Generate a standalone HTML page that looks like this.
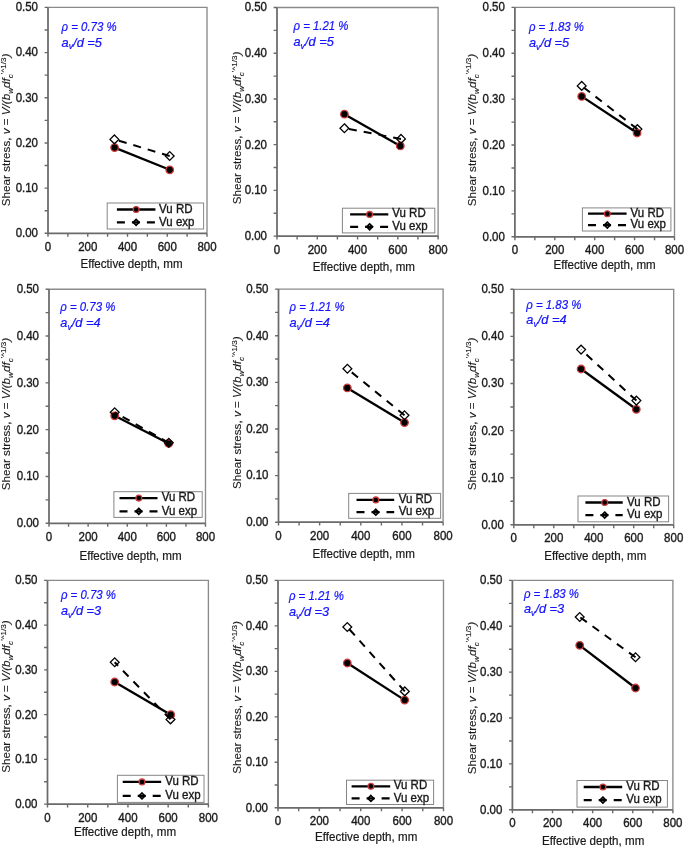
<!DOCTYPE html>
<html><head><meta charset="utf-8"><title>Shear stress vs effective depth</title>
<style>
html,body{margin:0;padding:0;background:#fff;}
body{width:685px;height:849px;overflow:hidden;}
svg{display:block;will-change:transform;}
svg text{font-family:"Liberation Sans",sans-serif;font-size:11.5px;fill:#1a1a1a;stroke:#1a1a1a;stroke-width:0.35px;}
svg text.ann{fill:#1414ff;font-style:italic;font-size:11.4px;stroke:#1414ff;stroke-width:0.2px;}
svg text.xt{font-size:11.6px;stroke-width:0.2px;}
svg text.yt{stroke-width:0.12px;}
</style></head>
<body>
<svg width="685" height="849" viewBox="0 0 685 849">
<rect width="685" height="849" fill="#fff"/>
<path d="M48 7.4H207V233.3" fill="none" stroke="#8a8a8a" stroke-width="1.35"/>
<path d="M48 7.4V233.3H207" fill="none" stroke="#6a6a6a" stroke-width="1.75"/>
<path d="M44.6 233.3H48M44.6 210.71H48M44.6 188.12H48M44.6 165.53H48M44.6 142.94H48M44.6 120.35H48M44.6 97.76H48M44.6 75.17H48M44.6 52.58H48M44.6 29.99H48M44.6 7.4H48M48 233.3V236.7M67.88 233.3V236.7M87.75 233.3V236.7M107.62 233.3V236.7M127.5 233.3V236.7M147.38 233.3V236.7M167.25 233.3V236.7M187.12 233.3V236.7M207 233.3V236.7" stroke="#6a6a6a" stroke-width="1.4"/>
<text text-anchor="end" transform="translate(38 237.2) scale(1 1.09)">0.00</text>
<text text-anchor="end" transform="translate(38 192.02) scale(1 1.09)">0.10</text>
<text text-anchor="end" transform="translate(38 146.84) scale(1 1.09)">0.20</text>
<text text-anchor="end" transform="translate(38 101.66) scale(1 1.09)">0.30</text>
<text text-anchor="end" transform="translate(38 56.48) scale(1 1.09)">0.40</text>
<text text-anchor="end" transform="translate(38 11.3) scale(1 1.09)">0.50</text>
<text text-anchor="middle" transform="translate(48 250.8) scale(1 1.09)">0</text>
<text text-anchor="middle" transform="translate(87.75 250.8) scale(1 1.09)">200</text>
<text text-anchor="middle" transform="translate(127.5 250.8) scale(1 1.09)">400</text>
<text text-anchor="middle" transform="translate(167.25 250.8) scale(1 1.09)">600</text>
<text text-anchor="middle" transform="translate(207 250.8) scale(1 1.09)">800</text>
<text class="xt" text-anchor="middle" transform="translate(131.5 267.8) scale(1 1.06)">Effective depth, mm</text>
<text class="yt" transform="translate(10.4 129.9) rotate(-90)" text-anchor="middle" textLength="152.5" lengthAdjust="spacingAndGlyphs">Shear stress, <tspan font-style="italic">v</tspan> = <tspan font-style="italic">V/(b</tspan><tspan font-style="italic" font-size="8" dy="3.0">w</tspan><tspan font-style="italic" dy="-3.0">df</tspan><tspan font-style="italic" font-size="8" dy="3.0">c</tspan><tspan font-size="8" dy="-7.4">'^1/3</tspan><tspan font-style="italic" dy="4.4">)</tspan></text>
<text class="ann" transform="translate(61.6 30.8) scale(1 1.1)" textLength="55.0" lengthAdjust="spacingAndGlyphs">&#961; = 0.73 %</text>
<text class="ann" transform="translate(61.6 46.5) scale(1 1.1)" textLength="40.3" lengthAdjust="spacingAndGlyphs">a<tspan font-size="7.8" dy="2.7">v</tspan><tspan dy="-2.7">/d =</tspan>5</text>
<path d="M114.6 147.6L169.7 169.8" stroke="#000" stroke-width="2.3" fill="none"/>
<circle cx="114.6" cy="147.6" r="3.75" fill="#000" stroke="#cc3b3b" stroke-width="1.3"/>
<circle cx="169.7" cy="169.8" r="3.75" fill="#000" stroke="#cc3b3b" stroke-width="1.3"/>
<path d="M169.7 156L114.4 139.4" stroke="#000" stroke-width="2.0" stroke-dasharray="8 7" fill="none"/>
<path d="M114.4 135L118.8 139.4L114.4 143.8L110 139.4Z" fill="none" stroke="#000" stroke-width="1.3"/>
<path d="M169.7 151.6L174.1 156L169.7 160.4L165.3 156Z" fill="none" stroke="#000" stroke-width="1.3"/>
<rect x="107.2" y="203" width="96.4" height="26" fill="#fff" stroke="#868686" stroke-width="1"/>
<path d="M116.9 209.5H155.4" stroke="#000" stroke-width="2.3"/>
<circle cx="136.1" cy="209.5" r="2.9" fill="#000" stroke="#cc3b3b" stroke-width="1.3"/>
<path d="M116.9 222.3H155.4" stroke="#000" stroke-width="2.3" stroke-dasharray="8 7"/>
<path d="M136.1 219.4L139 222.3L136.1 225.2L133.2 222.3Z" fill="none" stroke="#000" stroke-width="1.7"/>
<text transform="translate(159.1 212.5) scale(1 1.04)">Vu RD</text>
<text transform="translate(159.1 225.5) scale(1 1.04)">Vu exp</text>
<path d="M277 7.5H438.1V236.1" fill="none" stroke="#8a8a8a" stroke-width="1.35"/>
<path d="M277 7.5V236.1H438.1" fill="none" stroke="#6a6a6a" stroke-width="1.75"/>
<path d="M273.6 236.1H277M273.6 213.24H277M273.6 190.38H277M273.6 167.52H277M273.6 144.66H277M273.6 121.8H277M273.6 98.94H277M273.6 76.08H277M273.6 53.22H277M273.6 30.36H277M273.6 7.5H277M277 236.1V239.5M297.14 236.1V239.5M317.27 236.1V239.5M337.41 236.1V239.5M357.55 236.1V239.5M377.69 236.1V239.5M397.83 236.1V239.5M417.96 236.1V239.5M438.1 236.1V239.5" stroke="#6a6a6a" stroke-width="1.4"/>
<text text-anchor="end" transform="translate(267 240) scale(1 1.09)">0.00</text>
<text text-anchor="end" transform="translate(267 194.28) scale(1 1.09)">0.10</text>
<text text-anchor="end" transform="translate(267 148.56) scale(1 1.09)">0.20</text>
<text text-anchor="end" transform="translate(267 102.84) scale(1 1.09)">0.30</text>
<text text-anchor="end" transform="translate(267 57.12) scale(1 1.09)">0.40</text>
<text text-anchor="end" transform="translate(267 11.4) scale(1 1.09)">0.50</text>
<text text-anchor="middle" transform="translate(277 253.6) scale(1 1.09)">0</text>
<text text-anchor="middle" transform="translate(317.27 253.6) scale(1 1.09)">200</text>
<text text-anchor="middle" transform="translate(357.55 253.6) scale(1 1.09)">400</text>
<text text-anchor="middle" transform="translate(397.83 253.6) scale(1 1.09)">600</text>
<text text-anchor="middle" transform="translate(438.1 253.6) scale(1 1.09)">800</text>
<text class="xt" text-anchor="middle" transform="translate(363.9 270.9) scale(1 1.06)">Effective depth, mm</text>
<text class="yt" transform="translate(241.3 127.9) rotate(-90)" text-anchor="middle" textLength="152.5" lengthAdjust="spacingAndGlyphs">Shear stress, <tspan font-style="italic">v</tspan> = <tspan font-style="italic">V/(b</tspan><tspan font-style="italic" font-size="8" dy="3.0">w</tspan><tspan font-style="italic" dy="-3.0">df</tspan><tspan font-style="italic" font-size="8" dy="3.0">c</tspan><tspan font-size="8" dy="-7.4">'^1/3</tspan><tspan font-style="italic" dy="4.4">)</tspan></text>
<text class="ann" transform="translate(293.5 30.4) scale(1 1.1)" textLength="55.0" lengthAdjust="spacingAndGlyphs">&#961; = 1.21 %</text>
<text class="ann" transform="translate(293.5 46.1) scale(1 1.1)" textLength="40.3" lengthAdjust="spacingAndGlyphs">a<tspan font-size="7.8" dy="2.7">v</tspan><tspan dy="-2.7">/d =</tspan>5</text>
<path d="M344.4 114.2L400.3 145.9" stroke="#000" stroke-width="2.3" fill="none"/>
<circle cx="344.4" cy="114.2" r="3.75" fill="#000" stroke="#cc3b3b" stroke-width="1.3"/>
<circle cx="400.3" cy="145.9" r="3.75" fill="#000" stroke="#cc3b3b" stroke-width="1.3"/>
<path d="M401 138.9L344.4 128.2" stroke="#000" stroke-width="2.0" stroke-dasharray="8 7" fill="none"/>
<path d="M344.4 123.8L348.8 128.2L344.4 132.6L340 128.2Z" fill="none" stroke="#000" stroke-width="1.3"/>
<path d="M401 134.5L405.4 138.9L401 143.3L396.6 138.9Z" fill="none" stroke="#000" stroke-width="1.3"/>
<rect x="342.4" y="208.2" width="92.4" height="24.7" fill="#fff" stroke="#868686" stroke-width="1"/>
<path d="M350.1 214.4H388.3" stroke="#000" stroke-width="2.3"/>
<circle cx="369.6" cy="214.4" r="2.9" fill="#000" stroke="#cc3b3b" stroke-width="1.3"/>
<path d="M350.1 226.8H388.3" stroke="#000" stroke-width="2.3" stroke-dasharray="8 7"/>
<path d="M369.6 223.9L372.5 226.8L369.6 229.7L366.7 226.8Z" fill="none" stroke="#000" stroke-width="1.7"/>
<text transform="translate(392.3 217.4) scale(1 1.04)">Vu RD</text>
<text transform="translate(392.3 230) scale(1 1.04)">Vu exp</text>
<path d="M514.9 7.4H674.5V236.8" fill="none" stroke="#8a8a8a" stroke-width="1.35"/>
<path d="M514.9 7.4V236.8H674.5" fill="none" stroke="#6a6a6a" stroke-width="1.75"/>
<path d="M511.5 236.8H514.9M511.5 213.86H514.9M511.5 190.92H514.9M511.5 167.98H514.9M511.5 145.04H514.9M511.5 122.1H514.9M511.5 99.16H514.9M511.5 76.22H514.9M511.5 53.28H514.9M511.5 30.34H514.9M511.5 7.4H514.9M514.9 236.8V240.2M534.85 236.8V240.2M554.8 236.8V240.2M574.75 236.8V240.2M594.7 236.8V240.2M614.65 236.8V240.2M634.6 236.8V240.2M654.55 236.8V240.2M674.5 236.8V240.2" stroke="#6a6a6a" stroke-width="1.4"/>
<text text-anchor="end" transform="translate(504.9 240.7) scale(1 1.09)">0.00</text>
<text text-anchor="end" transform="translate(504.9 194.82) scale(1 1.09)">0.10</text>
<text text-anchor="end" transform="translate(504.9 148.94) scale(1 1.09)">0.20</text>
<text text-anchor="end" transform="translate(504.9 103.06) scale(1 1.09)">0.30</text>
<text text-anchor="end" transform="translate(504.9 57.18) scale(1 1.09)">0.40</text>
<text text-anchor="end" transform="translate(504.9 11.3) scale(1 1.09)">0.50</text>
<text text-anchor="middle" transform="translate(514.9 254.3) scale(1 1.09)">0</text>
<text text-anchor="middle" transform="translate(554.8 254.3) scale(1 1.09)">200</text>
<text text-anchor="middle" transform="translate(594.7 254.3) scale(1 1.09)">400</text>
<text text-anchor="middle" transform="translate(634.6 254.3) scale(1 1.09)">600</text>
<text text-anchor="middle" transform="translate(674.5 254.3) scale(1 1.09)">800</text>
<text class="xt" text-anchor="middle" transform="translate(604.6 269) scale(1 1.06)">Effective depth, mm</text>
<text class="yt" transform="translate(475.8 130) rotate(-90)" text-anchor="middle" textLength="152.5" lengthAdjust="spacingAndGlyphs">Shear stress, <tspan font-style="italic">v</tspan> = <tspan font-style="italic">V/(b</tspan><tspan font-style="italic" font-size="8" dy="3.0">w</tspan><tspan font-style="italic" dy="-3.0">df</tspan><tspan font-style="italic" font-size="8" dy="3.0">c</tspan><tspan font-size="8" dy="-7.4">'^1/3</tspan><tspan font-style="italic" dy="4.4">)</tspan></text>
<text class="ann" transform="translate(528.9 31.4) scale(1 1.1)" textLength="55.0" lengthAdjust="spacingAndGlyphs">&#961; = 1.83 %</text>
<text class="ann" transform="translate(528.9 47.2) scale(1 1.1)" textLength="40.3" lengthAdjust="spacingAndGlyphs">a<tspan font-size="7.8" dy="2.7">v</tspan><tspan dy="-2.7">/d =</tspan>5</text>
<path d="M581.7 96.4L637.1 133" stroke="#000" stroke-width="2.3" fill="none"/>
<circle cx="581.7" cy="96.4" r="3.75" fill="#000" stroke="#cc3b3b" stroke-width="1.3"/>
<circle cx="637.1" cy="133" r="3.75" fill="#000" stroke="#cc3b3b" stroke-width="1.3"/>
<path d="M637.4 129.1L581.7 85.9" stroke="#000" stroke-width="2.0" stroke-dasharray="8 7" fill="none"/>
<path d="M581.7 81.5L586.1 85.9L581.7 90.3L577.3 85.9Z" fill="none" stroke="#000" stroke-width="1.3"/>
<path d="M637.4 124.7L641.8 129.1L637.4 133.5L633 129.1Z" fill="none" stroke="#000" stroke-width="1.3"/>
<rect x="582.4" y="207.9" width="88.5" height="23.1" fill="#fff" stroke="#868686" stroke-width="1"/>
<path d="M588 213.7H626.6" stroke="#000" stroke-width="2.3"/>
<circle cx="607.3" cy="213.7" r="2.9" fill="#000" stroke="#cc3b3b" stroke-width="1.3"/>
<path d="M588 225.1H626.6" stroke="#000" stroke-width="2.3" stroke-dasharray="8 7"/>
<path d="M607.3 222.2L610.2 225.1L607.3 228L604.4 225.1Z" fill="none" stroke="#000" stroke-width="1.7"/>
<text transform="translate(630.6 216.7) scale(1 1.04)">Vu RD</text>
<text transform="translate(630.6 228.3) scale(1 1.04)">Vu exp</text>
<path d="M49 289.2H205.5V523.3" fill="none" stroke="#8a8a8a" stroke-width="1.35"/>
<path d="M49 289.2V523.3H205.5" fill="none" stroke="#6a6a6a" stroke-width="1.75"/>
<path d="M45.6 523.3H49M45.6 499.89H49M45.6 476.48H49M45.6 453.07H49M45.6 429.66H49M45.6 406.25H49M45.6 382.84H49M45.6 359.43H49M45.6 336.02H49M45.6 312.61H49M45.6 289.2H49M49 523.3V526.7M68.56 523.3V526.7M88.12 523.3V526.7M107.69 523.3V526.7M127.25 523.3V526.7M146.81 523.3V526.7M166.38 523.3V526.7M185.94 523.3V526.7M205.5 523.3V526.7" stroke="#6a6a6a" stroke-width="1.4"/>
<text text-anchor="end" transform="translate(39 527.2) scale(1 1.09)">0.00</text>
<text text-anchor="end" transform="translate(39 480.38) scale(1 1.09)">0.10</text>
<text text-anchor="end" transform="translate(39 433.56) scale(1 1.09)">0.20</text>
<text text-anchor="end" transform="translate(39 386.74) scale(1 1.09)">0.30</text>
<text text-anchor="end" transform="translate(39 339.92) scale(1 1.09)">0.40</text>
<text text-anchor="end" transform="translate(39 293.1) scale(1 1.09)">0.50</text>
<text text-anchor="middle" transform="translate(49 540.8) scale(1 1.09)">0</text>
<text text-anchor="middle" transform="translate(88.12 540.8) scale(1 1.09)">200</text>
<text text-anchor="middle" transform="translate(127.25 540.8) scale(1 1.09)">400</text>
<text text-anchor="middle" transform="translate(166.38 540.8) scale(1 1.09)">600</text>
<text text-anchor="middle" transform="translate(205.5 540.8) scale(1 1.09)">800</text>
<text class="xt" text-anchor="middle" transform="translate(130.5 559.7) scale(1 1.06)">Effective depth, mm</text>
<text class="yt" transform="translate(10.4 414) rotate(-90)" text-anchor="middle" textLength="152.5" lengthAdjust="spacingAndGlyphs">Shear stress, <tspan font-style="italic">v</tspan> = <tspan font-style="italic">V/(b</tspan><tspan font-style="italic" font-size="8" dy="3.0">w</tspan><tspan font-style="italic" dy="-3.0">df</tspan><tspan font-style="italic" font-size="8" dy="3.0">c</tspan><tspan font-size="8" dy="-7.4">'^1/3</tspan><tspan font-style="italic" dy="4.4">)</tspan></text>
<text class="ann" transform="translate(60.3 310.5) scale(1 1.1)" textLength="55.0" lengthAdjust="spacingAndGlyphs">&#961; = 0.73 %</text>
<text class="ann" transform="translate(60.3 326.7) scale(1 1.1)" textLength="40.3" lengthAdjust="spacingAndGlyphs">a<tspan font-size="7.8" dy="2.7">v</tspan><tspan dy="-2.7">/d =</tspan>4</text>
<path d="M114.7 415.8L168.7 443.5" stroke="#000" stroke-width="2.3" fill="none"/>
<circle cx="114.7" cy="415.8" r="3.75" fill="#000" stroke="#cc3b3b" stroke-width="1.3"/>
<circle cx="168.7" cy="443.5" r="3.75" fill="#000" stroke="#cc3b3b" stroke-width="1.3"/>
<path d="M168.8 442.8L114.7 412.3" stroke="#000" stroke-width="2.0" stroke-dasharray="8 7" fill="none"/>
<path d="M114.7 407.9L119.1 412.3L114.7 416.7L110.3 412.3Z" fill="none" stroke="#000" stroke-width="1.3"/>
<path d="M168.8 438.4L173.2 442.8L168.8 447.2L164.4 442.8Z" fill="none" stroke="#000" stroke-width="1.3"/>
<rect x="113.9" y="491.7" width="88.3" height="25.7" fill="#fff" stroke="#868686" stroke-width="1"/>
<path d="M119.5 498.1H157.5" stroke="#000" stroke-width="2.3"/>
<circle cx="138.8" cy="498.1" r="2.9" fill="#000" stroke="#cc3b3b" stroke-width="1.3"/>
<path d="M119.5 511.3H157.5" stroke="#000" stroke-width="2.3" stroke-dasharray="8 7"/>
<path d="M138.8 508.4L141.7 511.3L138.8 514.2L135.9 511.3Z" fill="none" stroke="#000" stroke-width="1.7"/>
<text transform="translate(161.7 501.1) scale(1 1.04)">Vu RD</text>
<text transform="translate(161.7 514.5) scale(1 1.04)">Vu exp</text>
<path d="M278.5 289.1H443.1V522.2" fill="none" stroke="#8a8a8a" stroke-width="1.35"/>
<path d="M278.5 289.1V522.2H443.1" fill="none" stroke="#6a6a6a" stroke-width="1.75"/>
<path d="M275.1 522.2H278.5M275.1 498.89H278.5M275.1 475.58H278.5M275.1 452.27H278.5M275.1 428.96H278.5M275.1 405.65H278.5M275.1 382.34H278.5M275.1 359.03H278.5M275.1 335.72H278.5M275.1 312.41H278.5M275.1 289.1H278.5M278.5 522.2V525.6M299.07 522.2V525.6M319.65 522.2V525.6M340.23 522.2V525.6M360.8 522.2V525.6M381.38 522.2V525.6M401.95 522.2V525.6M422.53 522.2V525.6M443.1 522.2V525.6" stroke="#6a6a6a" stroke-width="1.4"/>
<text text-anchor="end" transform="translate(268.5 526.1) scale(1 1.09)">0.00</text>
<text text-anchor="end" transform="translate(268.5 479.48) scale(1 1.09)">0.10</text>
<text text-anchor="end" transform="translate(268.5 432.86) scale(1 1.09)">0.20</text>
<text text-anchor="end" transform="translate(268.5 386.24) scale(1 1.09)">0.30</text>
<text text-anchor="end" transform="translate(268.5 339.62) scale(1 1.09)">0.40</text>
<text text-anchor="end" transform="translate(268.5 293) scale(1 1.09)">0.50</text>
<text text-anchor="middle" transform="translate(278.5 539.7) scale(1 1.09)">0</text>
<text text-anchor="middle" transform="translate(319.65 539.7) scale(1 1.09)">200</text>
<text text-anchor="middle" transform="translate(360.8 539.7) scale(1 1.09)">400</text>
<text text-anchor="middle" transform="translate(401.95 539.7) scale(1 1.09)">600</text>
<text text-anchor="middle" transform="translate(443.1 539.7) scale(1 1.09)">800</text>
<text class="xt" text-anchor="middle" transform="translate(363.7 558.2) scale(1 1.06)">Effective depth, mm</text>
<text class="yt" transform="translate(241.3 412.7) rotate(-90)" text-anchor="middle" textLength="152.5" lengthAdjust="spacingAndGlyphs">Shear stress, <tspan font-style="italic">v</tspan> = <tspan font-style="italic">V/(b</tspan><tspan font-style="italic" font-size="8" dy="3.0">w</tspan><tspan font-style="italic" dy="-3.0">df</tspan><tspan font-style="italic" font-size="8" dy="3.0">c</tspan><tspan font-size="8" dy="-7.4">'^1/3</tspan><tspan font-style="italic" dy="4.4">)</tspan></text>
<text class="ann" transform="translate(289.6 310.5) scale(1 1.1)" textLength="55.0" lengthAdjust="spacingAndGlyphs">&#961; = 1.21 %</text>
<text class="ann" transform="translate(289.6 326.7) scale(1 1.1)" textLength="40.3" lengthAdjust="spacingAndGlyphs">a<tspan font-size="7.8" dy="2.7">v</tspan><tspan dy="-2.7">/d =</tspan>4</text>
<path d="M347.3 387.9L404.5 422.6" stroke="#000" stroke-width="2.3" fill="none"/>
<circle cx="347.3" cy="387.9" r="3.75" fill="#000" stroke="#cc3b3b" stroke-width="1.3"/>
<circle cx="404.5" cy="422.6" r="3.75" fill="#000" stroke="#cc3b3b" stroke-width="1.3"/>
<path d="M404.5 415.3L347.4 368.8" stroke="#000" stroke-width="2.0" stroke-dasharray="8 7" fill="none"/>
<path d="M347.4 364.4L351.8 368.8L347.4 373.2L343 368.8Z" fill="none" stroke="#000" stroke-width="1.3"/>
<path d="M404.5 410.9L408.9 415.3L404.5 419.7L400.1 415.3Z" fill="none" stroke="#000" stroke-width="1.3"/>
<rect x="348.7" y="493.4" width="91.9" height="24.9" fill="#fff" stroke="#868686" stroke-width="1"/>
<path d="M356.5 499.9H394.2" stroke="#000" stroke-width="2.3"/>
<circle cx="375.8" cy="499.9" r="2.9" fill="#000" stroke="#cc3b3b" stroke-width="1.3"/>
<path d="M356.5 512.2H394.2" stroke="#000" stroke-width="2.3" stroke-dasharray="8 7"/>
<path d="M375.8 509.3L378.7 512.2L375.8 515.1L372.9 512.2Z" fill="none" stroke="#000" stroke-width="1.7"/>
<text transform="translate(398.7 502.9) scale(1 1.04)">Vu RD</text>
<text transform="translate(398.7 515.4) scale(1 1.04)">Vu exp</text>
<path d="M513.8 289.3H673.7V524.8" fill="none" stroke="#8a8a8a" stroke-width="1.35"/>
<path d="M513.8 289.3V524.8H673.7" fill="none" stroke="#6a6a6a" stroke-width="1.75"/>
<path d="M510.4 524.8H513.8M510.4 501.25H513.8M510.4 477.7H513.8M510.4 454.15H513.8M510.4 430.6H513.8M510.4 407.05H513.8M510.4 383.5H513.8M510.4 359.95H513.8M510.4 336.4H513.8M510.4 312.85H513.8M510.4 289.3H513.8M513.8 524.8V528.2M533.79 524.8V528.2M553.77 524.8V528.2M573.76 524.8V528.2M593.75 524.8V528.2M613.74 524.8V528.2M633.73 524.8V528.2M653.71 524.8V528.2M673.7 524.8V528.2" stroke="#6a6a6a" stroke-width="1.4"/>
<text text-anchor="end" transform="translate(503.8 528.7) scale(1 1.09)">0.00</text>
<text text-anchor="end" transform="translate(503.8 481.6) scale(1 1.09)">0.10</text>
<text text-anchor="end" transform="translate(503.8 434.5) scale(1 1.09)">0.20</text>
<text text-anchor="end" transform="translate(503.8 387.4) scale(1 1.09)">0.30</text>
<text text-anchor="end" transform="translate(503.8 340.3) scale(1 1.09)">0.40</text>
<text text-anchor="end" transform="translate(503.8 293.2) scale(1 1.09)">0.50</text>
<text text-anchor="middle" transform="translate(513.8 542.3) scale(1 1.09)">0</text>
<text text-anchor="middle" transform="translate(553.77 542.3) scale(1 1.09)">200</text>
<text text-anchor="middle" transform="translate(593.75 542.3) scale(1 1.09)">400</text>
<text text-anchor="middle" transform="translate(633.73 542.3) scale(1 1.09)">600</text>
<text text-anchor="middle" transform="translate(673.7 542.3) scale(1 1.09)">800</text>
<text class="xt" text-anchor="middle" transform="translate(595.3 560.2) scale(1 1.06)">Effective depth, mm</text>
<text class="yt" transform="translate(475.8 413.9) rotate(-90)" text-anchor="middle" textLength="152.5" lengthAdjust="spacingAndGlyphs">Shear stress, <tspan font-style="italic">v</tspan> = <tspan font-style="italic">V/(b</tspan><tspan font-style="italic" font-size="8" dy="3.0">w</tspan><tspan font-style="italic" dy="-3.0">df</tspan><tspan font-style="italic" font-size="8" dy="3.0">c</tspan><tspan font-size="8" dy="-7.4">'^1/3</tspan><tspan font-style="italic" dy="4.4">)</tspan></text>
<text class="ann" transform="translate(526.3 308.5) scale(1 1.1)" textLength="55.0" lengthAdjust="spacingAndGlyphs">&#961; = 1.83 %</text>
<text class="ann" transform="translate(526.3 324.3) scale(1 1.1)" textLength="40.3" lengthAdjust="spacingAndGlyphs">a<tspan font-size="7.8" dy="2.7">v</tspan><tspan dy="-2.7">/d =</tspan>4</text>
<path d="M581.1 369L636.3 409.3" stroke="#000" stroke-width="2.3" fill="none"/>
<circle cx="581.1" cy="369" r="3.75" fill="#000" stroke="#cc3b3b" stroke-width="1.3"/>
<circle cx="636.3" cy="409.3" r="3.75" fill="#000" stroke="#cc3b3b" stroke-width="1.3"/>
<path d="M636.4 400.6L581.1 349.6" stroke="#000" stroke-width="2.0" stroke-dasharray="8 7" fill="none"/>
<path d="M581.1 345.2L585.5 349.6L581.1 354L576.7 349.6Z" fill="none" stroke="#000" stroke-width="1.3"/>
<path d="M636.4 396.2L640.8 400.6L636.4 405L632 400.6Z" fill="none" stroke="#000" stroke-width="1.3"/>
<rect x="578" y="496" width="90.6" height="25.8" fill="#fff" stroke="#868686" stroke-width="1"/>
<path d="M585.4 502.5H622.7" stroke="#000" stroke-width="2.3"/>
<circle cx="604.7" cy="502.5" r="2.9" fill="#000" stroke="#cc3b3b" stroke-width="1.3"/>
<path d="M585.4 515.1H622.7" stroke="#000" stroke-width="2.3" stroke-dasharray="8 7"/>
<path d="M604.7 512.2L607.6 515.1L604.7 518L601.8 515.1Z" fill="none" stroke="#000" stroke-width="1.7"/>
<text transform="translate(627.1 505.5) scale(1 1.04)">Vu RD</text>
<text transform="translate(627.1 518.3) scale(1 1.04)">Vu exp</text>
<path d="M47.5 580.4H208.4V804.1" fill="none" stroke="#8a8a8a" stroke-width="1.35"/>
<path d="M47.5 580.4V804.1H208.4" fill="none" stroke="#6a6a6a" stroke-width="1.75"/>
<path d="M44.1 804.1H47.5M44.1 781.73H47.5M44.1 759.36H47.5M44.1 736.99H47.5M44.1 714.62H47.5M44.1 692.25H47.5M44.1 669.88H47.5M44.1 647.51H47.5M44.1 625.14H47.5M44.1 602.77H47.5M44.1 580.4H47.5M47.5 804.1V807.5M67.61 804.1V807.5M87.72 804.1V807.5M107.84 804.1V807.5M127.95 804.1V807.5M148.06 804.1V807.5M168.18 804.1V807.5M188.29 804.1V807.5M208.4 804.1V807.5" stroke="#6a6a6a" stroke-width="1.4"/>
<text text-anchor="end" transform="translate(37.5 808) scale(1 1.09)">0.00</text>
<text text-anchor="end" transform="translate(37.5 763.26) scale(1 1.09)">0.10</text>
<text text-anchor="end" transform="translate(37.5 718.52) scale(1 1.09)">0.20</text>
<text text-anchor="end" transform="translate(37.5 673.78) scale(1 1.09)">0.30</text>
<text text-anchor="end" transform="translate(37.5 629.04) scale(1 1.09)">0.40</text>
<text text-anchor="end" transform="translate(37.5 584.3) scale(1 1.09)">0.50</text>
<text text-anchor="middle" transform="translate(47.5 821.6) scale(1 1.09)">0</text>
<text text-anchor="middle" transform="translate(87.72 821.6) scale(1 1.09)">200</text>
<text text-anchor="middle" transform="translate(127.95 821.6) scale(1 1.09)">400</text>
<text text-anchor="middle" transform="translate(168.18 821.6) scale(1 1.09)">600</text>
<text text-anchor="middle" transform="translate(208.4 821.6) scale(1 1.09)">800</text>
<text class="xt" text-anchor="middle" transform="translate(125 835.7) scale(1 1.06)">Effective depth, mm</text>
<text class="yt" transform="translate(10.4 696.6) rotate(-90)" text-anchor="middle" textLength="152.5" lengthAdjust="spacingAndGlyphs">Shear stress, <tspan font-style="italic">v</tspan> = <tspan font-style="italic">V/(b</tspan><tspan font-style="italic" font-size="8" dy="3.0">w</tspan><tspan font-style="italic" dy="-3.0">df</tspan><tspan font-style="italic" font-size="8" dy="3.0">c</tspan><tspan font-size="8" dy="-7.4">'^1/3</tspan><tspan font-style="italic" dy="4.4">)</tspan></text>
<text class="ann" transform="translate(60.9 599.2) scale(1 1.1)" textLength="55.0" lengthAdjust="spacingAndGlyphs">&#961; = 0.73 %</text>
<text class="ann" transform="translate(60.9 615) scale(1 1.1)" textLength="40.3" lengthAdjust="spacingAndGlyphs">a<tspan font-size="7.8" dy="2.7">v</tspan><tspan dy="-2.7">/d =</tspan>3</text>
<path d="M114.7 682L170.7 714.7" stroke="#000" stroke-width="2.3" fill="none"/>
<circle cx="114.7" cy="682" r="3.75" fill="#000" stroke="#cc3b3b" stroke-width="1.3"/>
<circle cx="170.7" cy="714.7" r="3.75" fill="#000" stroke="#cc3b3b" stroke-width="1.3"/>
<path d="M170.5 719.4L114.7 662.3" stroke="#000" stroke-width="2.0" stroke-dasharray="8 7" fill="none"/>
<path d="M114.7 657.9L119.1 662.3L114.7 666.7L110.3 662.3Z" fill="none" stroke="#000" stroke-width="1.3"/>
<path d="M170.5 715L174.9 719.4L170.5 723.8L166.1 719.4Z" fill="none" stroke="#000" stroke-width="1.3"/>
<rect x="117.4" y="775.3" width="86.6" height="27.1" fill="#fff" stroke="#868686" stroke-width="1"/>
<path d="M122.7 781.9H161.2" stroke="#000" stroke-width="2.3"/>
<circle cx="142" cy="781.9" r="2.9" fill="#000" stroke="#cc3b3b" stroke-width="1.3"/>
<path d="M122.7 795.9H161.2" stroke="#000" stroke-width="2.3" stroke-dasharray="8 7"/>
<path d="M142 793L144.9 795.9L142 798.8L139.1 795.9Z" fill="none" stroke="#000" stroke-width="1.7"/>
<text transform="translate(165.2 784.9) scale(1 1.04)">Vu RD</text>
<text transform="translate(165.2 799.1) scale(1 1.04)">Vu exp</text>
<path d="M278 580.4H443.5V807.8" fill="none" stroke="#8a8a8a" stroke-width="1.35"/>
<path d="M278 580.4V807.8H443.5" fill="none" stroke="#6a6a6a" stroke-width="1.75"/>
<path d="M274.6 807.8H278M274.6 785.06H278M274.6 762.32H278M274.6 739.58H278M274.6 716.84H278M274.6 694.1H278M274.6 671.36H278M274.6 648.62H278M274.6 625.88H278M274.6 603.14H278M274.6 580.4H278M278 807.8V811.2M298.69 807.8V811.2M319.38 807.8V811.2M340.06 807.8V811.2M360.75 807.8V811.2M381.44 807.8V811.2M402.12 807.8V811.2M422.81 807.8V811.2M443.5 807.8V811.2" stroke="#6a6a6a" stroke-width="1.4"/>
<text text-anchor="end" transform="translate(268 811.7) scale(1 1.09)">0.00</text>
<text text-anchor="end" transform="translate(268 766.22) scale(1 1.09)">0.10</text>
<text text-anchor="end" transform="translate(268 720.74) scale(1 1.09)">0.20</text>
<text text-anchor="end" transform="translate(268 675.26) scale(1 1.09)">0.30</text>
<text text-anchor="end" transform="translate(268 629.78) scale(1 1.09)">0.40</text>
<text text-anchor="end" transform="translate(268 584.3) scale(1 1.09)">0.50</text>
<text text-anchor="middle" transform="translate(278 825.3) scale(1 1.09)">0</text>
<text text-anchor="middle" transform="translate(319.38 825.3) scale(1 1.09)">200</text>
<text text-anchor="middle" transform="translate(360.75 825.3) scale(1 1.09)">400</text>
<text text-anchor="middle" transform="translate(402.12 825.3) scale(1 1.09)">600</text>
<text text-anchor="middle" transform="translate(443.5 825.3) scale(1 1.09)">800</text>
<text class="xt" text-anchor="middle" transform="translate(366.2 840.8) scale(1 1.06)">Effective depth, mm</text>
<text class="yt" transform="translate(241.3 697.4) rotate(-90)" text-anchor="middle" textLength="152.5" lengthAdjust="spacingAndGlyphs">Shear stress, <tspan font-style="italic">v</tspan> = <tspan font-style="italic">V/(b</tspan><tspan font-style="italic" font-size="8" dy="3.0">w</tspan><tspan font-style="italic" dy="-3.0">df</tspan><tspan font-style="italic" font-size="8" dy="3.0">c</tspan><tspan font-size="8" dy="-7.4">'^1/3</tspan><tspan font-style="italic" dy="4.4">)</tspan></text>
<text class="ann" transform="translate(288.9 599.9) scale(1 1.1)" textLength="55.0" lengthAdjust="spacingAndGlyphs">&#961; = 1.21 %</text>
<text class="ann" transform="translate(288.9 615.9) scale(1 1.1)" textLength="40.3" lengthAdjust="spacingAndGlyphs">a<tspan font-size="7.8" dy="2.7">v</tspan><tspan dy="-2.7">/d =</tspan>3</text>
<path d="M347.3 663L404.7 700.1" stroke="#000" stroke-width="2.3" fill="none"/>
<circle cx="347.3" cy="663" r="3.75" fill="#000" stroke="#cc3b3b" stroke-width="1.3"/>
<circle cx="404.7" cy="700.1" r="3.75" fill="#000" stroke="#cc3b3b" stroke-width="1.3"/>
<path d="M404.8 691.4L347.3 627" stroke="#000" stroke-width="2.0" stroke-dasharray="8 7" fill="none"/>
<path d="M347.3 622.6L351.7 627L347.3 631.4L342.9 627Z" fill="none" stroke="#000" stroke-width="1.3"/>
<path d="M404.8 687L409.2 691.4L404.8 695.8L400.4 691.4Z" fill="none" stroke="#000" stroke-width="1.3"/>
<rect x="346.5" y="780.2" width="87.1" height="24.3" fill="#fff" stroke="#868686" stroke-width="1"/>
<path d="M351.6 786.3H390.2" stroke="#000" stroke-width="2.3"/>
<circle cx="370.9" cy="786.3" r="2.9" fill="#000" stroke="#cc3b3b" stroke-width="1.3"/>
<path d="M351.6 798.4H390.2" stroke="#000" stroke-width="2.3" stroke-dasharray="8 7"/>
<path d="M370.9 795.5L373.8 798.4L370.9 801.3L368 798.4Z" fill="none" stroke="#000" stroke-width="1.7"/>
<text transform="translate(393.8 789.3) scale(1 1.04)">Vu RD</text>
<text transform="translate(393.8 801.6) scale(1 1.04)">Vu exp</text>
<path d="M512.4 580.4H672.9V809.8" fill="none" stroke="#8a8a8a" stroke-width="1.35"/>
<path d="M512.4 580.4V809.8H672.9" fill="none" stroke="#6a6a6a" stroke-width="1.75"/>
<path d="M509 809.8H512.4M509 786.86H512.4M509 763.92H512.4M509 740.98H512.4M509 718.04H512.4M509 695.1H512.4M509 672.16H512.4M509 649.22H512.4M509 626.28H512.4M509 603.34H512.4M509 580.4H512.4M512.4 809.8V813.2M532.46 809.8V813.2M552.52 809.8V813.2M572.59 809.8V813.2M592.65 809.8V813.2M612.71 809.8V813.2M632.77 809.8V813.2M652.84 809.8V813.2M672.9 809.8V813.2" stroke="#6a6a6a" stroke-width="1.4"/>
<text text-anchor="end" transform="translate(502.4 813.7) scale(1 1.09)">0.00</text>
<text text-anchor="end" transform="translate(502.4 767.82) scale(1 1.09)">0.10</text>
<text text-anchor="end" transform="translate(502.4 721.94) scale(1 1.09)">0.20</text>
<text text-anchor="end" transform="translate(502.4 676.06) scale(1 1.09)">0.30</text>
<text text-anchor="end" transform="translate(502.4 630.18) scale(1 1.09)">0.40</text>
<text text-anchor="end" transform="translate(502.4 584.3) scale(1 1.09)">0.50</text>
<text text-anchor="middle" transform="translate(512.4 827.3) scale(1 1.09)">0</text>
<text text-anchor="middle" transform="translate(552.52 827.3) scale(1 1.09)">200</text>
<text text-anchor="middle" transform="translate(592.65 827.3) scale(1 1.09)">400</text>
<text text-anchor="middle" transform="translate(632.77 827.3) scale(1 1.09)">600</text>
<text text-anchor="middle" transform="translate(672.9 827.3) scale(1 1.09)">800</text>
<text class="xt" text-anchor="middle" transform="translate(593.2 844.6) scale(1 1.06)">Effective depth, mm</text>
<text class="yt" transform="translate(475.8 698) rotate(-90)" text-anchor="middle" textLength="152.5" lengthAdjust="spacingAndGlyphs">Shear stress, <tspan font-style="italic">v</tspan> = <tspan font-style="italic">V/(b</tspan><tspan font-style="italic" font-size="8" dy="3.0">w</tspan><tspan font-style="italic" dy="-3.0">df</tspan><tspan font-style="italic" font-size="8" dy="3.0">c</tspan><tspan font-size="8" dy="-7.4">'^1/3</tspan><tspan font-style="italic" dy="4.4">)</tspan></text>
<text class="ann" transform="translate(523.9 597.5) scale(1 1.1)" textLength="55.0" lengthAdjust="spacingAndGlyphs">&#961; = 1.83 %</text>
<text class="ann" transform="translate(523.9 613.3) scale(1 1.1)" textLength="40.3" lengthAdjust="spacingAndGlyphs">a<tspan font-size="7.8" dy="2.7">v</tspan><tspan dy="-2.7">/d =</tspan>3</text>
<path d="M579.7 645.3L635.5 688" stroke="#000" stroke-width="2.3" fill="none"/>
<circle cx="579.7" cy="645.3" r="3.75" fill="#000" stroke="#cc3b3b" stroke-width="1.3"/>
<circle cx="635.5" cy="688" r="3.75" fill="#000" stroke="#cc3b3b" stroke-width="1.3"/>
<path d="M635.5 657.3L579.7 617" stroke="#000" stroke-width="2.0" stroke-dasharray="8 7" fill="none"/>
<path d="M579.7 612.6L584.1 617L579.7 621.4L575.3 617Z" fill="none" stroke="#000" stroke-width="1.3"/>
<path d="M635.5 652.9L639.9 657.3L635.5 661.7L631.1 657.3Z" fill="none" stroke="#000" stroke-width="1.3"/>
<rect x="577" y="780.5" width="90.4" height="26.6" fill="#fff" stroke="#868686" stroke-width="1"/>
<path d="M583.7 787H622.2" stroke="#000" stroke-width="2.3"/>
<circle cx="602.9" cy="787" r="2.9" fill="#000" stroke="#cc3b3b" stroke-width="1.3"/>
<path d="M583.7 800.1H622.2" stroke="#000" stroke-width="2.3" stroke-dasharray="8 7"/>
<path d="M602.9 797.2L605.8 800.1L602.9 803L600 800.1Z" fill="none" stroke="#000" stroke-width="1.7"/>
<text transform="translate(626.2 790) scale(1 1.04)">Vu RD</text>
<text transform="translate(626.2 803.3) scale(1 1.04)">Vu exp</text>
</svg>
</body></html>
